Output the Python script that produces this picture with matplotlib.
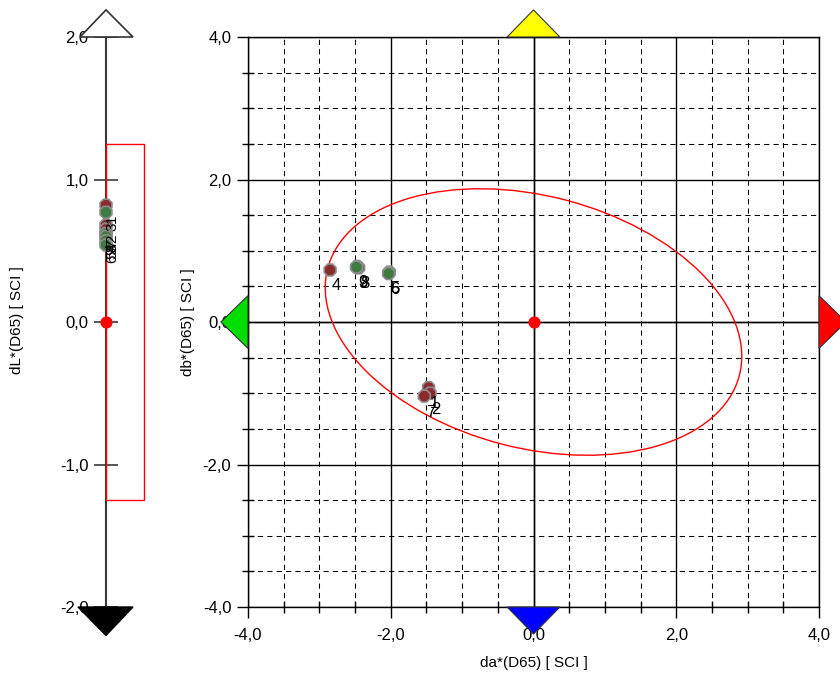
import numpy as np
import matplotlib.pyplot as plt
from matplotlib.patches import Polygon, Ellipse, Rectangle
from matplotlib.ticker import MultipleLocator, FuncFormatter

plt.rcParams['font.family'] = ['Liberation Sans', 'DejaVu Sans']

# Messwerte der Proben (Differenzen zur Referenz)
proben = ['1', '2', '7', '4', '3', '8', '9', '5', '6']
da = [-1.47, -1.45, -1.53, -2.85, -2.47, -2.45, -2.48, -2.02, -2.03]
db = [-0.92, -1.00, -1.04, 0.73, 0.78, 0.76, 0.77, 0.70, 0.68]
dL = [0.82, 0.68, 0.65, 0.62, 0.77, 0.62, 0.60, 0.57, 0.54]
farbe = ['#8b2c2c', '#8b2c2c', '#8b2c2c', '#8b2c2c',
         '#3f7a3f', '#3f7a3f', '#3f7a3f', '#3f7a3f', '#3f7a3f']

# Toleranzen
toleranz_dL = 1.25
ellipse_a, ellipse_b, ellipse_winkel = 2.98, 1.77, -14.6

komma = FuncFormatter(lambda v, pos: f'{v:.1f}'.replace('.', ','))

fig = plt.figure(figsize=(8.4, 6.81), dpi=100)

# ---- Helligkeit dL ----
axL = fig.add_axes([56 / 840, 1 - 607 / 681, 100 / 840, 570 / 681])
axL.set_xlim(-1, 1)
axL.set_ylim(-2, 2)
for s in ['top', 'right', 'bottom']:
    axL.spines[s].set_visible(False)
axL.spines['left'].set_position(('data', 0))
axL.spines['left'].set_color('#3a3a3a')
axL.spines['left'].set_linewidth(1.5)
axL.set_xticks([])
axL.yaxis.set_major_locator(MultipleLocator(1))
axL.yaxis.set_major_formatter(komma)
axL.tick_params(axis='y', direction='inout', length=17, width=1.2,
                color='#3a3a3a', pad=4, labelsize=12)
axL.patch.set_alpha(0)

axL.add_patch(Polygon([[-0.52, 2.0], [0.54, 2.0], [0.0, 2.19]], closed=True,
                      facecolor='white', edgecolor='#333333', lw=1.2, clip_on=False, zorder=5))
axL.add_patch(Polygon([[-0.56, -2.0], [0.54, -2.0], [0.0, -2.2]], closed=True,
                      facecolor='black', edgecolor='black', lw=1, clip_on=False, zorder=5))
axL.add_patch(Rectangle((0, -toleranz_dL), 0.76, 2 * toleranz_dL, fill=False,
                        edgecolor='red', lw=1, zorder=3))
axL.scatter([0], [0], s=60, color='red', zorder=6)
axL.scatter(np.zeros(len(dL)), dL, s=85, marker='8', c=farbe,
            edgecolors='#8c8c8c', linewidths=1.2, zorder=6)
for p, v in zip(proben, dL):
    axL.annotate(p, (0, v), xytext=(6, -14), textcoords='offset pixels',
                 rotation=90, ha='center', va='center', fontsize=11, zorder=7)

# ---- Buntheit da / db ----
ax = fig.add_axes([248 / 840, 1 - 607 / 681, 571 / 840, 570 / 681])
ax.set_xlim(-4, 4)
ax.set_ylim(-4, 4)
for a in (ax.xaxis, ax.yaxis):
    a.set_major_locator(MultipleLocator(2))
    a.set_minor_locator(MultipleLocator(0.5))
    a.set_major_formatter(komma)
ax.grid(which='major', color='black', lw=1)
ax.grid(which='minor', color='black', lw=0.75, linestyle=(0, (5, 4)))
ax.axhline(0, color='black', lw=1)
ax.axvline(0, color='black', lw=1)
for s in ax.spines.values():
    s.set_color('black')
    s.set_linewidth(1)
ax.tick_params(which='major', direction='out', length=8, width=1, labelsize=12)
ax.tick_params(which='minor', direction='inout', length=8, width=1)
ax.tick_params(axis='x', which='major', pad=7)
ax.tick_params(axis='y', which='major', pad=4)
ax.set_axisbelow(True)

dreiecke = [
    ([[-0.37, 4.0], [0.37, 4.0], [0.0, 4.38]], '#ffff00'),
    ([[-0.37, -4.0], [0.37, -4.0], [0.0, -4.38]], '#0000ff'),
    ([[-4.0, -0.37], [-4.0, 0.37], [-4.38, 0.0]], '#00dd00'),
    ([[4.0, -0.37], [4.0, 0.37], [4.38, 0.0]], '#ff0000'),
]
for pts, col in dreiecke:
    ax.add_patch(Polygon(pts, closed=True, facecolor=col, edgecolor='#333333',
                         lw=0.8, clip_on=False, zorder=5))

ax.add_patch(Ellipse((0, 0), 2 * ellipse_a, 2 * ellipse_b, angle=ellipse_winkel,
                     fill=False, edgecolor='red', lw=1, zorder=3))
ax.scatter([0], [0], s=60, color='red', zorder=6)
ax.scatter(da, db, s=85, marker='8', c=farbe, edgecolors='#8c8c8c',
           linewidths=1.2, zorder=6)
for p, x, y in zip(proben, da, db):
    ax.annotate(p, (x, y), xytext=(6, -16), textcoords='offset pixels',
                ha='center', va='center', fontsize=12, zorder=7)

fig.text(17 / 840, 1 - 320 / 681, 'dL*(D65) [ SCI ]', rotation=90,
         ha='center', va='center', fontsize=11)
fig.text(188 / 840, 1 - 322 / 681, 'db*(D65) [ SCI ]', rotation=90,
         ha='center', va='center', fontsize=11)
fig.text(534 / 840, 1 - 663 / 681, 'da*(D65) [ SCI ]',
         ha='center', va='center', fontsize=11)

fig.savefig('out.png', dpi=100)
